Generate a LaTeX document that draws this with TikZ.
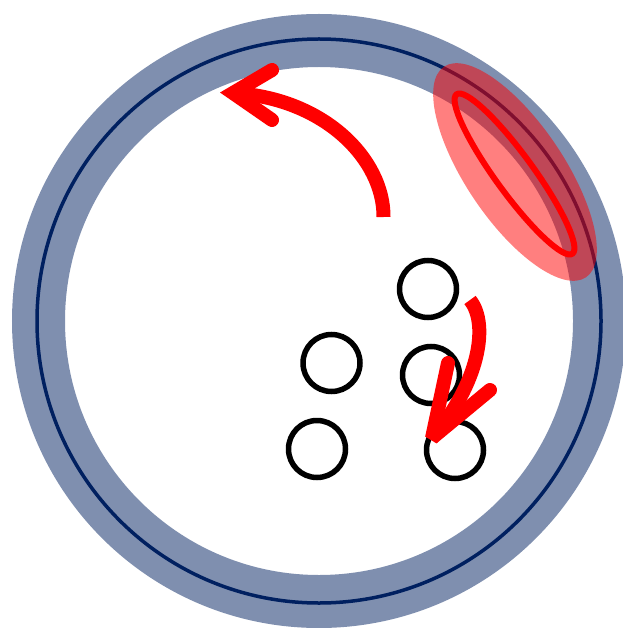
\documentclass[tikz,border=0pt]{standalone}
\definecolor{bandblue}{RGB}{127,143,175}
\definecolor{navyline}{RGB}{0,32,96}
\begin{document}
\begin{tikzpicture}[x=1pt,y=-1pt,
  band/.style={draw=bandblue, line width=53pt},
  thinring/.style={draw=navyline, line width=3.5pt},
  blob/.style={fill=red, fill opacity=0.5},
  outlineell/.style={draw=red, line width=6pt},
  dot/.style={circle, draw=black, line width=5.5pt, minimum size=57pt, inner sep=0pt},
  shaft/.style={draw=red, line width=14pt, line cap=butt},
  barbs/.style={draw=red, line width=14pt, line cap=round}]
\useasboundingbox (0,0) rectangle (622,628);
% ring
\coordinate (ctr) at (319,321);
\draw[band] (ctr) circle [radius=280.5];
\draw[thinring] (ctr) circle [radius=282];
% red translucent region
\coordinate (bc) at (515,172);
\fill[blob, rotate around={-56:(bc)}] (bc) ellipse [x radius=127, y radius=49];
\coordinate (ec) at (514.5,174);
\draw[outlineell, rotate around={-54:(ec)}] (ec) ellipse [x radius=98.5, y radius=19];
% circles
\node[dot] (c1) at (428,289) {};
\node[dot] (c2) at (331.5,363) {};
\node[dot] (c3) at (431,375) {};
\node[dot] (c4) at (317,449) {};
\node[dot] (c5) at (455,450) {};
% big arrow
\coordinate (bs) at (383.5,217);
\coordinate (bt) at (233,93);
\coordinate (bb1) at (272,70);
\coordinate (bb2) at (272,120);
\draw[shaft] (bs) .. controls (384,160) and (325,98) .. (bt);
\draw[barbs, line join=miter] (bb1) -- (bt) -- (bb2);
% small arrow
\coordinate (ss) at (470,300);
\coordinate (st) at (432,438);
\coordinate (sb1) at (448,363);
\coordinate (sb2) at (490,390);
\draw[shaft] (ss) .. controls (490,325) and (478,385) .. (st);
\draw[barbs, line join=bevel] (sb1) -- (st) -- (sb2);
\end{tikzpicture}
\end{document}
